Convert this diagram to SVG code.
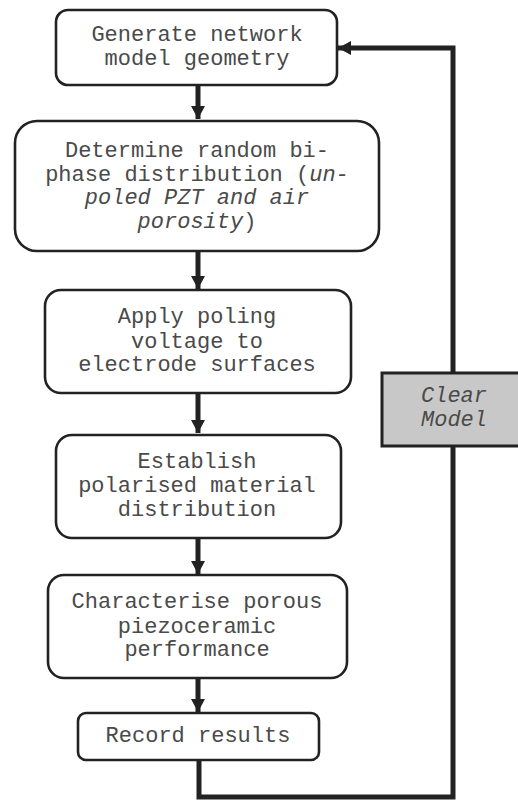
<svg xmlns="http://www.w3.org/2000/svg" width="518" height="801" viewBox="0 0 518 801">
<style>
.box{fill:#fff;stroke:#222;stroke-width:2.6}
.t{font-family:"Liberation Mono","Courier New",monospace;font-size:22px;fill:#4a4a4a;text-anchor:middle}
.i{font-style:italic}
.c{fill:none;stroke:#222;stroke-width:5}
.gray{fill:#c8c8c8;stroke:#222;stroke-width:3}
</style>
<defs>
<marker id="ah" markerWidth="14" markerHeight="14" viewBox="0 0 14 14" refX="13" refY="7" orient="auto" markerUnits="userSpaceOnUse">
<path d="M0,0 L13,7 L0,14 Z" fill="#222"/>
</marker>
</defs>
<rect width="518" height="801" fill="#fff"/>
<g id="connectors">
<line class="c" x1="198" y1="85" x2="198" y2="119" marker-end="url(#ah)"/>
<line class="c" x1="198" y1="251" x2="198" y2="289" marker-end="url(#ah)"/>
<line class="c" x1="198" y1="393" x2="198" y2="433" marker-end="url(#ah)"/>
<line class="c" x1="198" y1="538" x2="198" y2="574" marker-end="url(#ah)"/>
<line class="c" x1="198" y1="678" x2="198" y2="712" marker-end="url(#ah)"/>
<polyline class="c" points="199,760 199,797 453,797 453,48 338,48" marker-end="url(#ah)"/>
</g>
<g id="n1">
<rect class="box" x="56" y="10" width="281" height="75" rx="12"/>
<text class="t" x="197" y="41">Generate network</text>
<text class="t" x="197" y="65">model geometry</text>
</g>
<g id="n2">
<rect class="box" x="15" y="121" width="364" height="130" rx="22"/>
<text class="t" x="197" y="157">Determine random bi-</text>
<text class="t" x="197" y="181">phase distribution (<tspan class="i">un-</tspan></text>
<text class="t i" x="197" y="204">poled PZT and air</text>
<text class="t" x="197" y="228"><tspan class="i">porosity</tspan>)</text>
</g>
<g id="n3">
<rect class="box" x="45" y="290" width="306" height="103" rx="16"/>
<text class="t" x="197" y="323">Apply poling</text>
<text class="t" x="197" y="348">voltage to</text>
<text class="t" x="197" y="371">electrode surfaces</text>
</g>
<g id="n4">
<rect class="box" x="56" y="435" width="285" height="103" rx="16"/>
<text class="t" x="197" y="468">Establish</text>
<text class="t" x="197" y="492">polarised material</text>
<text class="t" x="197" y="516">distribution</text>
</g>
<g id="n5">
<rect class="box" x="48" y="575" width="299" height="103" rx="16"/>
<text class="t" x="197" y="608">Characterise porous</text>
<text class="t" x="197" y="633">piezoceramic</text>
<text class="t" x="197" y="656">performance</text>
</g>
<g id="n6">
<rect class="box" x="78" y="713" width="241" height="47" rx="8"/>
<text class="t" x="198" y="742">Record results</text>
</g>
<g id="clear">
<rect class="gray" x="382" y="373" width="140" height="73"/>
<text class="t i" x="454" y="402">Clear</text>
<text class="t i" x="454" y="426">Model</text>
</g>
</svg>
